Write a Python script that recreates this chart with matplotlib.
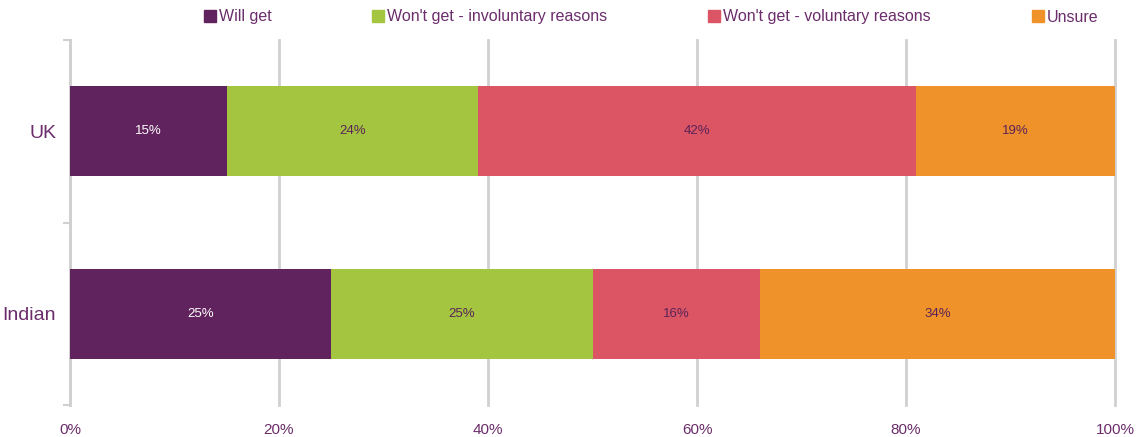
# stacked horizontal bar: intention to get, UK vs Indian
import matplotlib.pyplot as plt
from matplotlib.patches import Patch
from matplotlib.ticker import FuncFormatter

plt.rcParams['font.family'] = ['Liberation Sans', 'DejaVu Sans']

groups = ['UK', 'Indian']
series = ['Will get', "Won't get - involuntary reasons", "Won't get - voluntary reasons", 'Unsure']
will_get = [15, 25]
wont_invol = [24, 25]
wont_vol = [42, 16]
unsure = [19, 34]
colors = ['#61235E', '#A3C540', '#DC5565', '#F0922A']
label_colors = ['white', '#5A2357', '#5A2357', '#5A2357']
txt = '#6B2D6B'
grid = '#D0D0D0'

fig = plt.figure(figsize=(11.39, 4.37), dpi=100)
ax = fig.add_axes([70 / 1139, 1 - 405 / 437, 1045 / 1139, 365 / 437])

ypos = [0.5, 1.5]
left = [0, 0]
for v, c, lc in zip([will_get, wont_invol, wont_vol, unsure], colors, label_colors):
    ax.barh(ypos, v, left=left, height=0.495, color=c, zorder=3)
    for y, l, val in zip(ypos, left, v):
        ax.text(l + val / 2, y, f'{val}%', ha='center', va='center', color=lc, fontsize=9.5, zorder=4)
    left = [a + b for a, b in zip(left, v)]

ax.set_xlim(0, 100)
ax.set_ylim(2, 0)
ax.set_xticks(range(0, 101, 20))
ax.xaxis.set_major_formatter(FuncFormatter(lambda x, p: f'{x:.0f}%'))
ax.set_yticks([0, 1, 2])
ax.set_yticklabels([])
ax.set_yticks(ypos, minor=True)
ax.set_yticklabels(groups, minor=True)
ax.tick_params(axis='y', which='minor', length=0, labelsize=14, labelcolor=txt, pad=10)
ax.tick_params(axis='y', which='major', length=5, color=grid, width=1.5)
ax.tick_params(axis='x', length=0, labelsize=11, labelcolor=txt, pad=13)

ax.grid(axis='x', color=grid, linewidth=2, zorder=0)
for gl in ax.get_xgridlines():
    gl.set_clip_on(False)
for sp in ['top', 'right', 'bottom']:
    ax.spines[sp].set_visible(False)
ax.spines['left'].set_color(grid)
ax.spines['left'].set_linewidth(2)

# legend entries placed individually like the original
legend_x = [204, 372, 708, 1032]
for s, c, x in zip(series, colors, legend_x):
    fig.legend(handles=[Patch(color=c, label=s)], loc='center left',
               bbox_to_anchor=(x / 1139, 1 - 17 / 437), frameon=False,
               handlelength=0.75, handleheight=0.75, handletextpad=0.2,
               borderpad=0, borderaxespad=0, fontsize=11.5, labelcolor=txt)

fig.savefig('out.png', dpi=100)
